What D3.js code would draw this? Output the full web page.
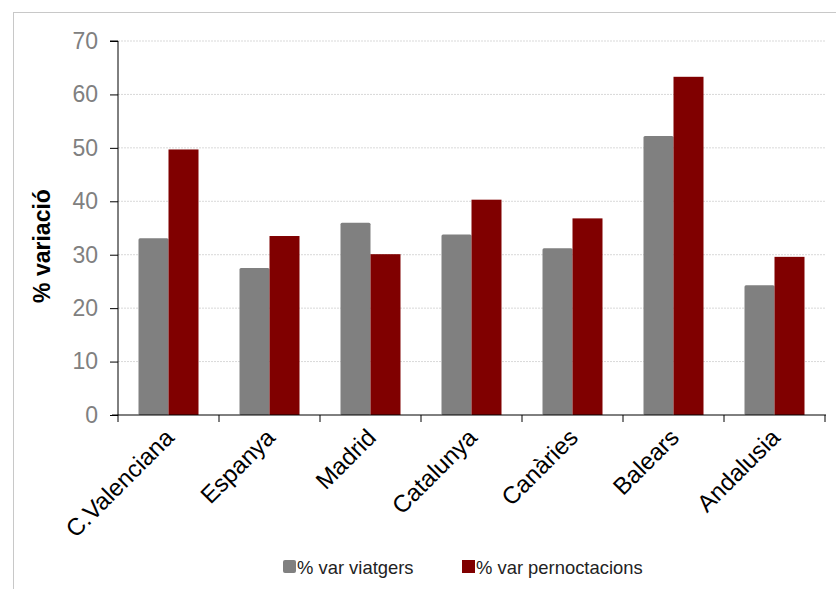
<!DOCTYPE html>
<html>
<head>
<meta charset="utf-8">
<script src="https://cdn.jsdelivr.net/npm/d3@7"></script>
<style>
  body { margin: 0; background: #fff; }
  svg { font-family: "Liberation Sans", Arial, sans-serif; }
</style>
</head>
<body>
<svg id="chart" width="836" height="589"></svg>
<script>
const regions = ['C.Valenciana', 'Espanya', 'Madrid', 'Catalunya', 'Canàries', 'Balears', 'Andalusia'];
const viatgers = [33.1, 27.5, 36.0, 33.8, 31.2, 52.2, 24.3];
const pernoctacions = [49.7, 33.5, 30.1, 40.3, 36.8, 63.3, 29.6];
const yTicks = [0, 10, 20, 30, 40, 50, 60, 70];
const seriesNames = ['% var viatgers', '% var pernoctacions'];
const colors = ['#808080', '#800000'];

const svg = d3.select('#chart');

// outer frame (runs off the right/bottom edge like the original)
svg.append('rect')
  .attr('x', 13.5).attr('y', 12.5)
  .attr('width', 900).attr('height', 700)
  .attr('fill', 'none')
  .attr('stroke', '#c8c8c8');

const plotLeft = 118, plotRight = 825, plotTop = 41, plotBottom = 415;

const x = d3.scaleBand().domain(regions).range([plotLeft, plotRight]);
const y = d3.scaleLinear().domain([0, 70]).range([plotBottom, plotTop]);
const barW = 30;

// gridlines
svg.append('g')
  .selectAll('line')
  .data(yTicks.filter(d => d > 0))
  .join('line')
  .attr('x1', plotLeft).attr('x2', plotRight + 1)
  .attr('y1', d => y(d)).attr('y2', d => y(d))
  .attr('stroke', '#d9d9d9')
  .attr('stroke-dasharray', '2,1');

// bars
const series = [viatgers, pernoctacions];
series.forEach((vals, s) => {
  svg.append('g')
    .selectAll('rect')
    .data(regions)
    .join('rect')
    .attr('x', d => x(d) + x.bandwidth() / 2 - barW + s * barW)
    .attr('y', (d, i) => y(vals[i]))
    .attr('width', barW)
    .attr('height', (d, i) => y(0) - y(vals[i]))
    .attr('fill', colors[s])
    .attr('rx', s === 0 ? 1.5 : 0);
});

// y axis
const yAxis = svg.append('g')
  .attr('transform', `translate(${plotLeft},0)`)
  .call(d3.axisLeft(y).tickValues(yTicks).tickSize(8).tickPadding(12));
yAxis.select('.domain').attr('stroke', '#000').attr('d', `M-8,${plotTop}H0V${plotBottom}`);
yAxis.selectAll('.tick line').attr('stroke', '#000');
yAxis.selectAll('.tick text')
  .attr('fill', '#808080')
  .attr('font-size', 23)
  .attr('font-family', '"Liberation Sans", Arial, sans-serif');

// x axis
const xAxis = svg.append('g')
  .attr('transform', `translate(0,${plotBottom})`)
  .call(d3.axisBottom(x).tickSize(0).tickFormat(''));
xAxis.select('.domain').attr('stroke', '#000').attr('d', `M${plotLeft - 6},0H${plotRight + 1}`);
svg.append('g')
  .selectAll('line')
  .data(regions.map(r => x(r)).concat([plotRight]))
  .join('line')
  .attr('x1', d => d).attr('x2', d => d)
  .attr('y1', plotBottom).attr('y2', plotBottom + 7)
  .attr('stroke', '#000');

svg.append('g')
  .selectAll('text')
  .data(regions)
  .join('text')
  .attr('transform', d => `translate(${x(d) + x.bandwidth() / 2 + 7},${plotBottom + 24}) rotate(-45)`)
  .attr('text-anchor', 'end')
  .attr('font-size', 24)
  .attr('fill', '#000')
  .text(d => d);

// y title
svg.append('text')
  .attr('transform', `translate(50,246) rotate(-90)`)
  .attr('text-anchor', 'middle')
  .attr('font-size', 23)
  .attr('font-weight', 'bold')
  .attr('fill', '#000')
  .text('% variació');

// legend
const legendX = [283, 462];
const legend = svg.append('g')
  .selectAll('g')
  .data(seriesNames)
  .join('g')
  .attr('transform', (d, i) => `translate(${legendX[i]},560)`);
legend.append('rect')
  .attr('width', 13).attr('height', 13)
  .attr('rx', (d, i) => i === 0 ? 2 : 0)
  .attr('fill', (d, i) => colors[i]);
legend.append('text')
  .attr('x', 14).attr('y', 14)
  .attr('font-size', 18.4)
  .attr('fill', '#222')
  .text(d => d);
</script>
</body>
</html>
